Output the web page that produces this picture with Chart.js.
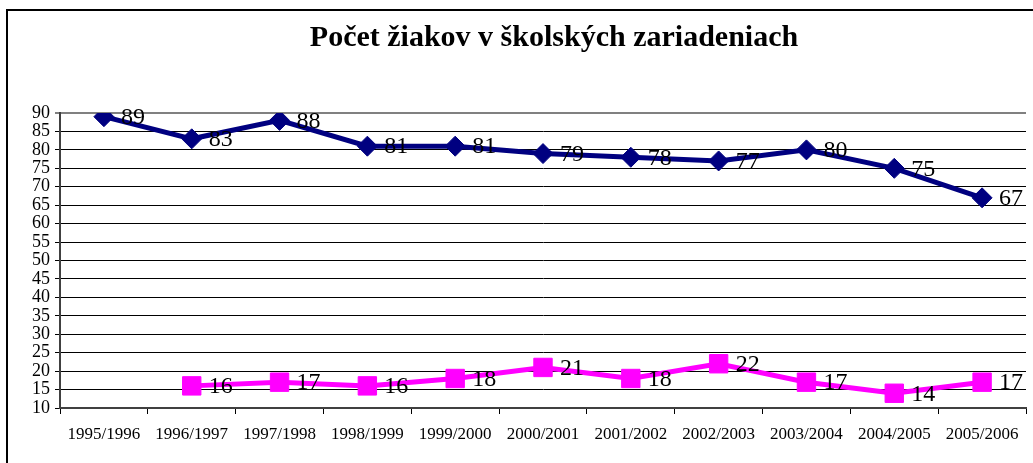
<!DOCTYPE html>
<html>
<head>
<meta charset="utf-8">
<script src="https://cdn.jsdelivr.net/npm/chart.js@4/dist/chart.umd.min.js"></script>
<style>
  html, body { margin: 0; padding: 0; background: #fff; overflow: hidden; }
  #wrap { position: absolute; left: 0; top: 0; width: 1040px; height: 463px; }
</style>
</head>
<body>
<div id="wrap"><canvas id="chart" width="1040" height="463"></canvas></div>
<script>
// chart data
const years = ['1995/1996', '1996/1997', '1997/1998', '1998/1999', '1999/2000', '2000/2001',
    '2001/2002', '2002/2003', '2003/2004', '2004/2005', '2005/2006'];
const seriesNavy = [89, 83, 88, 81, 81, 79, 78, 77, 80, 75, 67];
const seriesPink = [null, 16, 17, 16, 18, 21, 18, 22, 17, 14, 17];
const yMin = 10;
const yMax = 90;
const yStep = 5;
const chartTitle = 'Počet žiakov v školských zariadeniach';

const serif = "'Liberation Serif', 'Times New Roman', serif";

// frame + title, drawn behind everything
const framePlugin = {
    id: 'frame',
    beforeDraw(chart) {
        const ctx = chart.ctx;
        ctx.save();
        ctx.strokeStyle = '#000';
        ctx.lineWidth = 2;
        ctx.beginPath();
        ctx.moveTo(7, chart.height + 5);
        ctx.lineTo(7, 10);
        ctx.lineTo(chart.width + 5, 10);
        ctx.stroke();
        ctx.fillStyle = '#000';
        ctx.font = 'bold 30px ' + serif;
        ctx.textAlign = 'center';
        ctx.textBaseline = 'alphabetic';
        ctx.fillText(chartTitle, 554, 46);
        ctx.restore();
    }
};

// value labels to the right of each point
const valueLabels = {
    id: 'valueLabels',
    afterDatasetsDraw(chart) {
        const ctx = chart.ctx;
        ctx.save();
        ctx.fillStyle = '#000';
        ctx.font = '24px ' + serif;
        ctx.textAlign = 'left';
        ctx.textBaseline = 'middle';
        chart.data.datasets.forEach((ds, di) => {
            const meta = chart.getDatasetMeta(di);
            meta.data.forEach((pt, i) => {
                const v = ds.data[i];
                if (v === null || v === undefined) return;
                ctx.fillText(String(v), pt.x + 17, pt.y + 1);
            });
        });
        ctx.restore();
    }
};

Chart.defaults.devicePixelRatio = 1;

new Chart(document.getElementById('chart').getContext('2d'), {
    type: 'line',
    data: {
        labels: years,
        datasets: [{
            label: 'A',
            data: seriesNavy,
            borderColor: '#000080',
            backgroundColor: '#000080',
            borderWidth: 5,
            tension: 0,
            pointStyle: 'rectRot',
            pointRadius: 10,
            pointBorderWidth: 1,
            pointBackgroundColor: '#000080',
            pointBorderColor: '#000080'
        }, {
            label: 'B',
            data: seriesPink,
            borderColor: '#FF00FF',
            backgroundColor: '#FF00FF',
            borderWidth: 5,
            tension: 0,
            spanGaps: false,
            pointStyle: 'rect',
            pointRadius: 13,
            pointBorderWidth: 1,
            pointBackgroundColor: '#FF00FF',
            pointBorderColor: '#FF00FF'
        }]
    },
    options: {
        responsive: false,
        animation: false,
        layout: { padding: { top: 113, left: 0, right: 2, bottom: 0 } },
        plugins: {
            legend: { display: false },
            title: { display: false },
            tooltip: { enabled: false }
        },
        scales: {
            x: {
                offset: true,
                grid: {
                    display: true,
                    offset: true,
                    drawOnChartArea: false,
                    drawTicks: true,
                    tickLength: 6,
                    color: '#000',
                    lineWidth: 1
                },
                border: { display: true, color: '#404040', width: 2 },
                ticks: {
                    color: '#000',
                    font: { family: serif, size: 17 },
                    padding: 10,
                    maxRotation: 0,
                    autoSkip: false
                },
                afterFit(scale) { scale.height = 55; }
            },
            y: {
                min: yMin,
                max: yMax,
                grid: {
                    color: (c) => (c.tick && c.tick.value === yMax) ? '#808080' : '#000',
                    lineWidth: (c) => (c.tick && c.tick.value === yMax) ? 2 : 1,
                    tickLength: 5,
                    drawTicks: true
                },
                border: { display: true, color: '#404040', width: 2 },
                ticks: {
                    stepSize: yStep,
                    autoSkip: false,
                    color: '#000',
                    font: { family: serif, size: 18, lineHeight: 1 },
                    padding: 5
                },
                afterFit(scale) { scale.width = 60; }
            }
        }
    },
    plugins: [framePlugin, valueLabels]
});
</script>
</body>
</html>
